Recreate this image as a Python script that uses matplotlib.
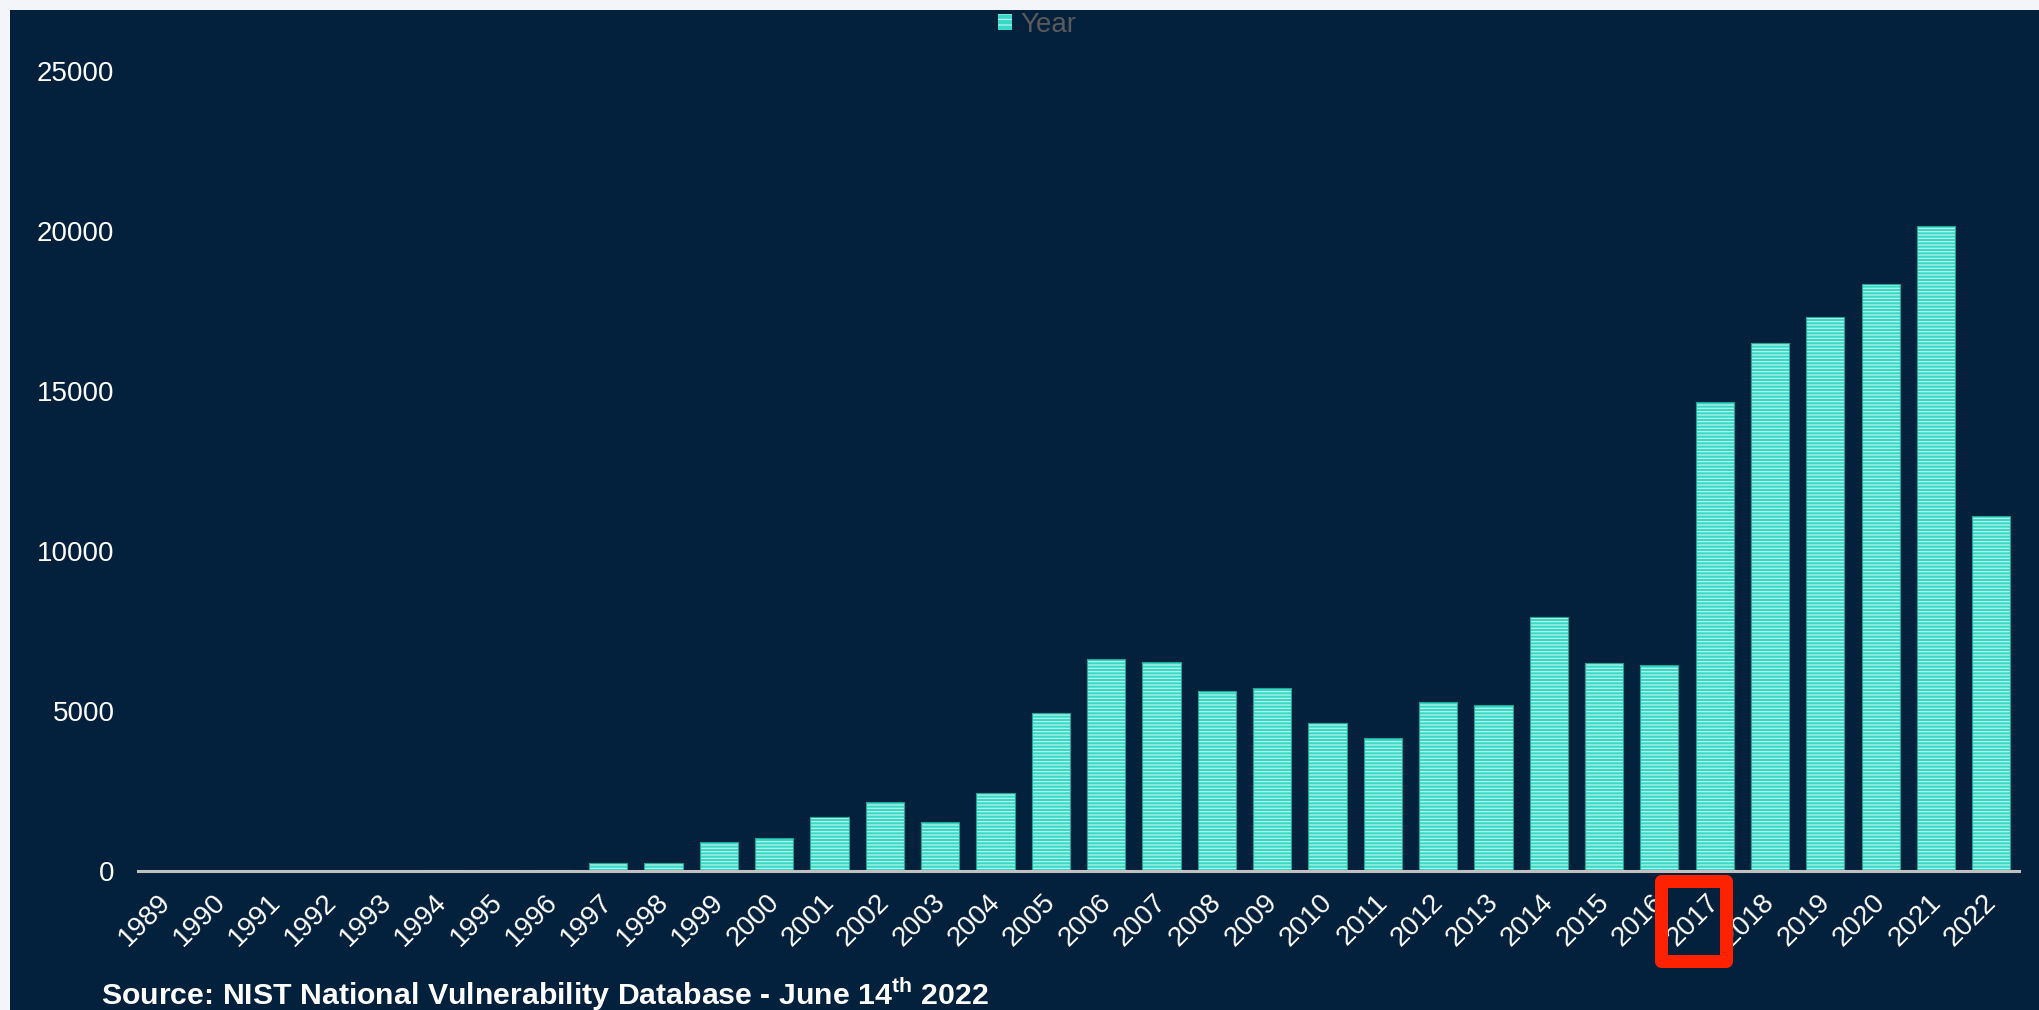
import matplotlib
matplotlib.use("Agg")
import matplotlib.pyplot as plt
from matplotlib.patches import Rectangle, Patch
import matplotlib.transforms as mtransforms

years = [str(y) for y in range(1989, 2023)]
counts = [3, 11, 15, 13, 13, 25, 25, 25, 252, 246, 894, 1020, 1677, 2156, 1527,
          2451, 4935, 6610, 6520, 5632, 5732, 4639, 4150, 5288, 5187, 7928, 6487,
          6447, 14643, 16509, 17305, 18350, 20155, 11100]
yticks = [0, 5000, 10000, 15000, 20000, 25000]
legend_label = "Year"
source_text = r"Source: NIST National Vulnerability Database - June 14$^{\mathbf{th}}$ 2022"
highlight = "2017"

plt.rcParams['font.family'] = ['Liberation Sans', 'DejaVu Sans']
plt.rcParams['mathtext.fontset'] = 'custom'
plt.rcParams['mathtext.rm'] = 'Liberation Sans'
plt.rcParams['mathtext.bf'] = 'Liberation Sans:bold'
plt.rcParams['hatch.linewidth'] = 0.9

W, H = 2039, 1010
BG = '#03203c'
TEAL = '#36d8c6'
STRIPE = '#b8f4eb'
fig = plt.figure(figsize=(W / 100, H / 100), dpi=100)
fig.patch.set_facecolor('#f3f5f8')
fig.patches.append(Rectangle((10 / W, 0), 1 - 10 / W, 1 - 10 / H, transform=fig.transFigure,
                             facecolor=BG, edgecolor='none', zorder=-10))

ax = fig.add_axes([138 / W, 1 - 871 / H, (2019 - 138) / W, (871 - 71) / H])
ax.set_facecolor('none')
x = list(range(len(years)))
ax.bar(x, counts, width=0.69, color=TEAL, edgecolor=STRIPE, linewidth=0, hatch='-----', zorder=2)
ax.bar(x, counts, width=0.69, fill=False, edgecolor='#1fa596', linewidth=0.8, zorder=3)
ax.set_xlim(-0.5, len(years) - 0.5)
ax.set_ylim(0, 25000)
ax.set_yticks(yticks)
ax.set_yticklabels([str(v) for v in yticks])
ax.set_xticks(x)
ax.set_xticklabels(years, rotation=45, ha='right', rotation_mode='anchor')
for s in ['top', 'right', 'left']:
    ax.spines[s].set_visible(False)
ax.spines['bottom'].set_color('#c0c0c0')
ax.spines['bottom'].set_linewidth(2.2)
ax.spines['bottom'].set_zorder(4)
ax.tick_params(axis='y', length=0, pad=17, labelsize=20, labelcolor='white')
ax.tick_params(axis='x', length=0, pad=13, labelsize=20, labelcolor='white')
for lbl in ax.get_xticklabels():
    lbl.set_transform(lbl.get_transform() + mtransforms.ScaledTranslation(-6 / 72, 0, fig.dpi_scale_trans))

# highlight box around 2017 label
idx = years.index(highlight)
trans = mtransforms.blended_transform_factory(ax.transData, ax.transAxes)
ax.add_patch(Rectangle((idx - 0.967, -0.113), 1.175, 0.100, transform=trans, fill=False,
                       edgecolor='#ff2200', linewidth=9.4, joinstyle='round', clip_on=False, zorder=6))

handle = Patch(facecolor=TEAL, edgecolor=STRIPE, hatch='---', linewidth=0)
fig.legend(handles=[handle], labels=[legend_label], loc='center', bbox_to_anchor=(1037 / W, 1 - 25 / H),
           frameon=False, fontsize=20, handlelength=0.5, handleheight=0.5, handletextpad=0.3,
           labelcolor='#5a5a5a')

fig.text(101 / W, 5 / H, source_text, color='white', fontsize=21.8, fontweight='bold', va='baseline', ha='left')

fig.savefig('out.png', dpi=100, facecolor=fig.get_facecolor())
